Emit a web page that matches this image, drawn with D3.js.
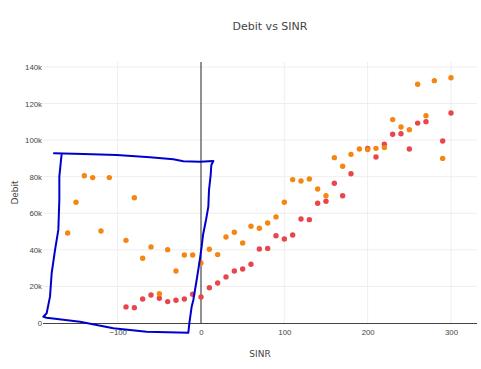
<!DOCTYPE html>
<html>
<head>
<meta charset="utf-8">
<script src="https://cdn.jsdelivr.net/npm/d3@7"></script>
<style>
  body { margin: 0; background: #fff; }
  svg { display: block; font-family: Verdana, "DejaVu Sans", sans-serif; }
</style>
</head>
<body>
<div id="app"></div>
<script>
const width = 481
const height = 369
const margin = { top: 62, right: 4, bottom: 46, left: 43 }

// red trace (drawn first)
const sinrRed = [-90, -80, -70, -60, -50, -40, -30, -20, -10, 0, 10, 20, 30, 40, 50, 60, 70, 80, 90, 100,
    110, 120, 130, 140, 150, 160, 170, 180, 200, 210, 220, 230, 240, 250, 260, 270, 290, 300]
const debitRed = [8.8, 8.4, 13.1, 15.3, 13.5, 11.7, 12.4, 13.1, 15.7, 14.2, 19.3, 21.9, 25.2, 28.4, 29.5, 32.1, 40.5, 40.8, 47.7, 45.9,
    48.1, 56.9, 56.5, 65.5, 66.6, 76.4, 69.6, 81.6, 95.5, 90.8, 97.7, 103.2, 103.5, 95.1, 109.3, 110.1, 99.5, 114.8]

// orange trace (on top)
const sinrOrange = [-160, -150, -140, -130, -120, -110, -90, -80, -70, -60, -50, -40, -30, -20, -10, 0, 10, 20, 30, 40,
    50, 60, 70, 80, 90, 100, 110, 120, 130, 140, 150, 160, 170, 180, 190, 200, 210, 220, 230, 240,
    250, 260, 270, 280, 290, 300]
const debitOrange = [49.2, 66, 80.5, 79.5, 50.3, 79.5, 45.2, 68.5, 35.4, 41.6, 16, 40.1, 28.4, 37.2, 37.2, 32.8, 40.3, 37.4, 47, 49.6,
    43.7, 52.9, 51.8, 54.7, 58, 66, 78.4, 77.6, 78.7, 73.3, 69.6, 90.4, 85.7, 92.2, 95.1, 94.8, 95.5, 95.9, 111.2, 107.2,
    105.7, 130.5, 113.3, 132.5, 90, 134.1]

// hand drawn selection, in data units (SINR, Debit k)
const lassoSinr = [-176.4, -141.2, -101.2, -61.2, -33.2, -21.2, -1.2, 14.8, 12.4, 11.6, 9.6, 8.8, 6, 2.4, 0.8, -2, -5.2, -9.2, -11.2, -14, -15.2,
    -65.2, -105.2, -145.2, -185.2, -189.2, -185.2, -181.2, -179.2, -175.2, -171.2, -170, -170, -168, -167.2]
const lassoDebit = [92.8, 92.4, 91.9, 90.6, 89.5, 88.4, 88.2, 88.6, 86.4, 80.9, 72.7, 63.6, 56.3, 48.1, 41.7, 32.7, 23.5, 12.6, 8.9, -0.2, -5.3,
    -4.8, -2.9, 0.7, 2.9, 3.4, 5.3, 14.4, 27.2, 39.9, 50.9, 67.3, 80, 89.1, 92.4]

const xTicks = [-100, 0, 100, 200, 300]
const yTicks = [0, 20, 40, 60, 80, 100, 120, 140]

const x = d3.scaleLinear().domain([-189.6, 331.2]).range([margin.left, width - margin.right])
const y = d3.scaleLinear().domain([0, 142.7]).range([height - margin.bottom, margin.top])

const svg = d3.select('#app').append('svg')
    .attr('width', width)
    .attr('height', height)

// grid
svg.append('g')
    .selectAll('line')
    .data(xTicks.filter(d => d !== 0))
    .join('line')
    .attr('x1', d => x(d)).attr('x2', d => x(d))
    .attr('y1', margin.top).attr('y2', height - margin.bottom)
    .attr('stroke', '#eee')

svg.append('g')
    .selectAll('line')
    .data(yTicks.filter(d => d !== 0))
    .join('line')
    .attr('x1', margin.left).attr('x2', width - margin.right)
    .attr('y1', d => y(d)).attr('y2', d => y(d))
    .attr('stroke', '#eee')

// zero line and bottom axis line
svg.append('line')
    .attr('x1', x(0)).attr('x2', x(0))
    .attr('y1', margin.top).attr('y2', height - margin.bottom)
    .attr('stroke', '#222')

const xAxis = g => g
    .attr('transform', `translate(0, ${height - margin.bottom})`)
    .call(d3.axisBottom(x).tickValues(xTicks).tickSize(0).tickPadding(6))
    .call(g => g.select('.domain').attr('stroke', '#444').attr('d', `M${margin.left},0.5H${width - margin.right}`))
    .call(g => g.selectAll('text').attr('fill', '#444').attr('font-size', 7.8).attr('font-family', null))

const yAxis = g => g
    .attr('transform', `translate(${margin.left}, 0)`)
    .call(d3.axisLeft(y).tickValues(yTicks).tickSize(0).tickPadding(1).tickFormat(d => d === 0 ? '0' : d + 'k'))
    .call(g => g.select('.domain').remove())
    .call(g => g.selectAll('text').attr('fill', '#444').attr('font-size', 7.8).attr('font-family', null))

svg.append('g').call(xAxis)
svg.append('g').call(yAxis)

// points
const red = sinrRed.map((s, i) => ({ s, d: debitRed[i] }))
const orange = sinrOrange.map((s, i) => ({ s, d: debitOrange[i] }))

svg.append('g')
    .selectAll('circle')
    .data(red)
    .join('circle')
    .attr('cx', d => x(d.s))
    .attr('cy', d => y(d.d))
    .attr('r', 2.7)
    .attr('fill', '#e8454c')

svg.append('g')
    .selectAll('circle')
    .data(orange)
    .join('circle')
    .attr('cx', d => x(d.s))
    .attr('cy', d => y(d.d))
    .attr('r', 2.7)
    .attr('fill', '#f5860f')

// freehand shape
const lasso = d3.line()
    .x(d => x(d[0]))
    .y(d => y(d[1]))

svg.append('path')
    .attr('d', lasso(lassoSinr.map((s, i) => [s, lassoDebit[i]])))
    .attr('fill', 'none')
    .attr('stroke', '#0000cd')
    .attr('stroke-width', 2)
    .attr('stroke-linejoin', 'round')
    .attr('stroke-linecap', 'round')

// titles
svg.append('text')
    .attr('x', 270).attr('y', 30)
    .attr('text-anchor', 'middle')
    .attr('font-size', 11)
    .attr('fill', '#444')
    .text('Debit vs SINR')

svg.append('text')
    .attr('x', (margin.left + width - margin.right) / 2).attr('y', 357)
    .attr('text-anchor', 'middle')
    .attr('font-size', 9)
    .attr('fill', '#444')
    .text('SINR')

svg.append('text')
    .attr('transform', `translate(18, ${(margin.top + height - margin.bottom) / 2}) rotate(-90)`)
    .attr('text-anchor', 'middle')
    .attr('font-size', 9)
    .attr('fill', '#444')
    .text('Debit')
</script>
</body>
</html>
